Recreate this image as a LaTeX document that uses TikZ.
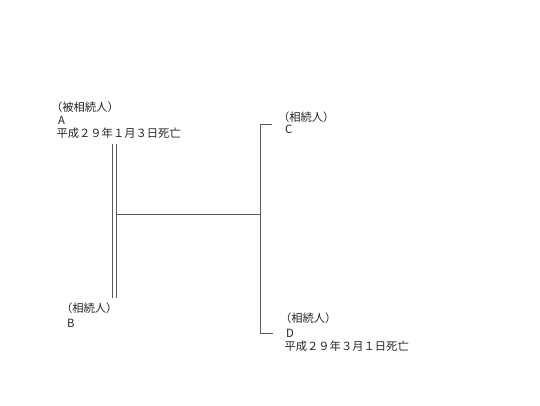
\documentclass[tikz,border=0pt]{standalone}
\usepackage{fontspec}
\setmainfont{Noto Sans CJK JP}
\tikzset{
  lbl/.style={anchor=west, inner sep=0pt, outer sep=0pt, font=\fontsize{11.3}{13}\selectfont, text=black!85},
  ln/.style={draw=black!65, line width=0.8pt}
}
\begin{document}
\begin{tikzpicture}[x=1pt,y=-1pt]
\useasboundingbox (0,0) rectangle (540,405);
% texts
\node[lbl] (aRole) at (51,107) {（被相続人）};
\node[lbl] (aName) at (58,120) {A};
\node[lbl] (aDate) at (56.5,133.5) {平成２９年１月３日死亡};
\node[lbl] (bRole) at (61,308.5) {（相続人）};
\node[lbl] (bName) at (67,323.5) {B};
\node[lbl] (cRole) at (278,117) {（相続人）};
\node[lbl] (cName) at (285,129.5) {C};
\node[lbl] (dRole) at (280,318) {（相続人）};
\node[lbl] (dName) at (286,333.5) {D};
\node[lbl] (dDate) at (284.5,346.5) {平成２９年３月１日死亡};
% line points
\coordinate (m1t) at (112.5,144);
\coordinate (m1b) at (112.5,298);
\coordinate (m2t) at (116,144);
\coordinate (m2b) at (116,298);
\coordinate (mj) at (116,214);
\coordinate (vj) at (260,214);
\coordinate (vt) at (260,124.5);
\coordinate (vb) at (260,333);
\coordinate (ct) at (272,124.5);
\coordinate (db) at (273,333);
% lines
\draw[ln] (m1t) -- (m1b);
\draw[ln] (m2t) -- (m2b);
\draw[ln] (mj) -- (vj);
\draw[ln] (ct) -- (vt) -- (vb) -- (db);
\end{tikzpicture}
\end{document}
